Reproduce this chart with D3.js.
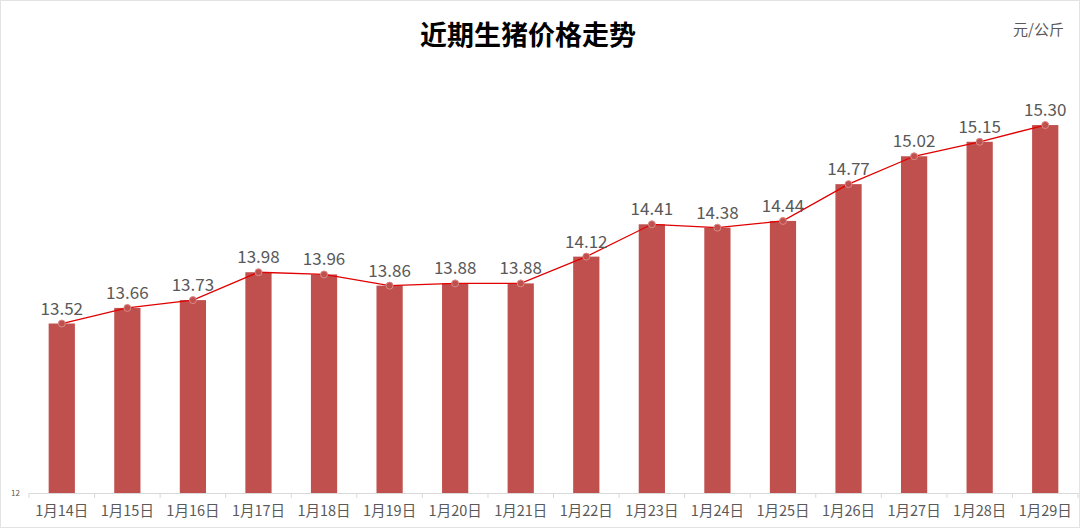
<!DOCTYPE html>
<html>
<head>
<meta charset="utf-8">
<title>近期生猪价格走势</title>
<script src="https://d3js.org/d3.v7.min.js"></script>
<style>
  body { margin: 0; background: #fff; }
  #chart text { font-family: "Noto Sans CJK SC", "Noto Sans", sans-serif; }
</style>
</head>
<body>
<div id="chart"></div>
<script>
// Data
const dates = ["1月14日", "1月15日", "1月16日", "1月17日", "1月18日", "1月19日", "1月20日", "1月21日",
               "1月22日", "1月23日", "1月24日", "1月25日", "1月26日", "1月27日", "1月28日", "1月29日"]
const prices = [13.52, 13.66, 13.73, 13.98, 13.96, 13.86, 13.88, 13.88,
                14.12, 14.41, 14.38, 14.44, 14.77, 15.02, 15.15, 15.30]
const yTicks = [12]

const w = 1080
const h = 528
const margin = { top: 47, right: 2, bottom: 35, left: 29 }

const svg = d3.select("#chart")
    .append("svg")
    .attr("width", w)
    .attr("height", h)

// faint frame
svg.append("rect")
    .attr("x", 0.5).attr("y", 0.5)
    .attr("width", w - 1).attr("height", h - 1)
    .attr("fill", "none")
    .attr("stroke", "#e3e3e3")

const xScale = d3.scaleBand()
    .domain(dates)
    .range([margin.left, w - margin.right])
    .paddingInner(0.6)
    .paddingOuter(0.3)

const xOuter = d3.scaleBand()
    .domain(dates)
    .range([margin.left, w - margin.right])

const yScale = d3.scaleLinear()
    .domain([12, 16])
    .range([h - margin.bottom, margin.top])

// Title
svg.append("text")
    .attr("x", 528)
    .attr("y", 45)
    .attr("text-anchor", "middle")
    .attr("font-size", 27)
    .attr("font-weight", 600)
    .attr("fill", "#000")
    .text("近期生猪价格走势")

// Unit
svg.append("text")
    .attr("x", 1064)
    .attr("y", 35)
    .attr("text-anchor", "end")
    .attr("font-size", 15)
    .attr("fill", "#595959")
    .text("元/公斤")

// Bars
svg.selectAll("rect.bar")
    .data(prices)
    .enter()
    .append("rect")
    .attr("class", "bar")
    .attr("x", (d, i) => xScale(dates[i]))
    .attr("y", d => yScale(d))
    .attr("width", xScale.bandwidth())
    .attr("height", d => yScale(12) - yScale(d))
    .attr("fill", "#C0504D")

// X axis
const xAxis = d3.axisBottom(xOuter).tickSize(0).tickPadding(13)
const gx = svg.append("g")
    .attr("transform", "translate(0," + yScale(12) + ")")
    .call(xAxis)
gx.select(".domain").attr("stroke", "#d9d9d9")
gx.selectAll("text")
    .attr("font-size", 14.5)
    .attr("fill", "#595959")
gx.selectAll(".sep")
    .data(dates.concat(["end"]))
    .enter()
    .append("line")
    .attr("class", "sep")
    .attr("x1", (d, i) => i < dates.length ? xOuter(d) : xOuter.range()[1])
    .attr("x2", (d, i) => i < dates.length ? xOuter(d) : xOuter.range()[1])
    .attr("y1", 0)
    .attr("y2", 5)
    .attr("stroke", "#d9d9d9")

// Y axis (only the base value)
const yAxis = d3.axisLeft(yScale).tickValues(yTicks).tickFormat(d3.format("d")).tickSize(0).tickPadding(9)
const gy = svg.append("g")
    .attr("transform", "translate(" + margin.left + ",0)")
    .call(yAxis)
gy.select(".domain").remove()
gy.selectAll("text")
    .attr("font-size", 8)
    .attr("fill", "#595959")

// Line
const cx = i => xScale(dates[i]) + xScale.bandwidth() / 2
const line = d3.line()
    .x((d, i) => cx(i))
    .y(d => yScale(d))

svg.append("path")
    .datum(prices)
    .attr("d", line)
    .attr("fill", "none")
    .attr("stroke", "#E00000")
    .attr("stroke-width", 1.3)

svg.selectAll("circle.pt")
    .data(prices)
    .enter()
    .append("circle")
    .attr("class", "pt")
    .attr("cx", (d, i) => cx(i))
    .attr("cy", d => yScale(d))
    .attr("r", 3.5)
    .attr("fill", "#C0504D")
    .attr("stroke", "#D98C8A")
    .attr("stroke-width", 1)

// Value labels
svg.selectAll("text.val")
    .data(prices)
    .enter()
    .append("text")
    .attr("class", "val")
    .attr("x", (d, i) => cx(i))
    .attr("y", d => yScale(d) - 9)
    .attr("text-anchor", "middle")
    .attr("font-size", 17)
    .attr("fill", "#595959")
    .text(d => d.toFixed(2))
</script>
</body>
</html>
